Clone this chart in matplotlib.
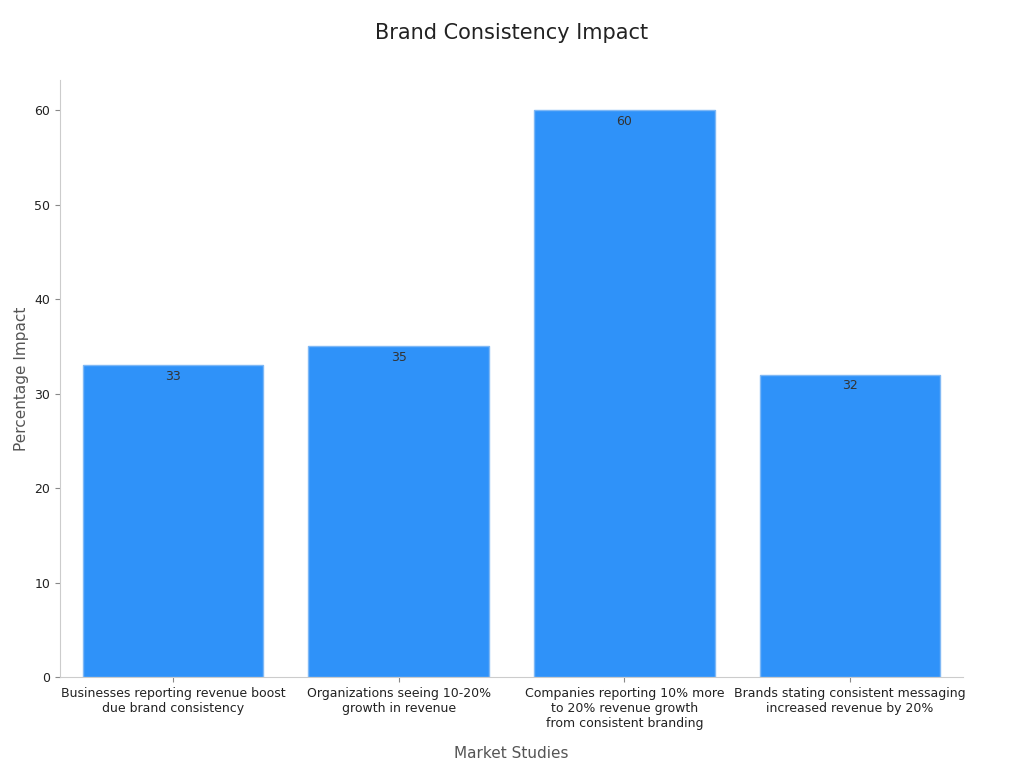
import matplotlib.pyplot as plt

categories = ["Businesses reporting revenue boost\ndue brand consistency",
              "Organizations seeing 10-20%\ngrowth in revenue",
              "Companies reporting 10% more\nto 20% revenue growth\nfrom consistent branding",
              "Brands stating consistent messaging\nincreased revenue by 20%"]
values = [33, 35, 60, 32]

fig = plt.figure(figsize=(10.24, 7.68), dpi=100)
ax = fig.add_axes([0.0586, 0.1185, 0.8818, 0.7775])
x = range(len(values))
bars = ax.bar(x, values, width=0.8, color="#2f92f9", edgecolor="#7fb8f5", linewidth=1)
for b, v in zip(bars, values):
    ax.text(b.get_x() + b.get_width() / 2, v - 0.5, str(v), ha="center", va="top",
            fontsize=9, color="#333333")
ax.set_xlim(-0.5, 3.5)
ax.set_ylim(0, 63.2)
ax.set_xticks(list(x))
ax.set_xticklabels(categories, fontsize=9, color="#222222")
ax.set_yticks(range(0, 61, 10))
ax.tick_params(axis="y", labelsize=9, colors="#222222")
ax.tick_params(color="#888888")
for s in ["top", "right"]:
    ax.spines[s].set_visible(False)
for s in ["left", "bottom"]:
    ax.spines[s].set_color("#cccccc")
ax.set_xlabel("Market Studies", fontsize=11, color="#555555", labelpad=12)
ax.set_ylabel("Percentage Impact", fontsize=11, color="#555555")
fig.text(0.5, 0.957, "Brand Consistency Impact", ha="center", va="center", fontsize=15, color="#222222")
fig.savefig("out.png")
